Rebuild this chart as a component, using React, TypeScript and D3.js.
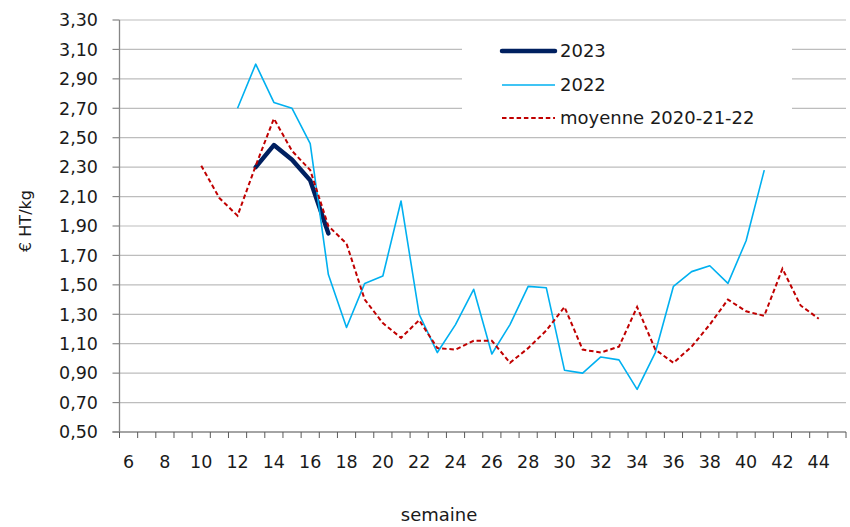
import React from "react";
import * as d3 from "d3";

// Week numbers on the category axis
const weeks: number[] = [
  6, 7, 8, 9, 10, 11, 12, 13, 14, 15, 16, 17, 18, 19, 20, 21, 22, 23, 24, 25,
  26, 27, 28, 29, 30, 31, 32, 33, 34, 35, 36, 37, 38, 39, 40, 41, 42, 43, 44, 45,
];
const yTicks: number[] = [0.5, 0.7, 0.9, 1.1, 1.3, 1.5, 1.7, 1.9, 2.1, 2.3, 2.5, 2.7, 2.9, 3.1, 3.3];

// Prices in € HT/kg, per week
const weeks2023: number[] = [13, 14, 15, 16, 17];
const values2023: number[] = [2.30, 2.45, 2.35, 2.21, 1.85];

const weeks2022: number[] = [
  12, 13, 14, 15, 16, 17, 18, 19, 20, 21, 22, 23, 24, 25, 26, 27, 28, 29, 30, 31,
  32, 33, 34, 35, 36, 37, 38, 39, 40, 41,
];
const values2022: number[] = [
  2.70, 3.00, 2.74, 2.70, 2.46, 1.57, 1.21, 1.51, 1.56, 2.07, 1.30, 1.04, 1.23, 1.47, 1.03,
  1.23, 1.49, 1.48, 0.92, 0.90, 1.01, 0.99, 0.79, 1.04, 1.49, 1.59, 1.63, 1.51, 1.80, 2.28,
];

const weeksAvg: number[] = [
  10, 11, 12, 13, 14, 15, 16, 17, 18, 19, 20, 21, 22, 23, 24, 25, 26, 27, 28, 29,
  30, 31, 32, 33, 34, 35, 36, 37, 38, 39, 40, 41, 42, 43, 44,
];
const valuesAvg: number[] = [
  2.31, 2.09, 1.97, 2.31, 2.63, 2.41, 2.28, 1.90, 1.78, 1.40, 1.24, 1.14, 1.26, 1.07, 1.06,
  1.12, 1.12, 0.97, 1.07, 1.19, 1.35, 1.06, 1.04, 1.08, 1.35, 1.06, 0.97, 1.08, 1.23, 1.40,
  1.32, 1.29, 1.61, 1.36, 1.27,
];

const W = 850;
const H = 527;
const left = 119.5;
const right = 846;
const top = 20;
const bottom = 432;
const FONT = "'DejaVu Sans', sans-serif";

const C2023 = "#002060";
const C2022 = "#00B0F0";
const CAVG = "#C00000";

export default function App() {
  const x = d3.scaleBand<number>().domain(weeks).range([left, right]).paddingInner(0).paddingOuter(0);
  const y = d3.scaleLinear().domain([0.5, 3.3]).range([bottom, top]);
  const cx = (w: number) => (x(w) as number) + x.bandwidth() / 2;

  const line = d3
    .line<[number, number]>()
    .x((d) => cx(d[0]))
    .y((d) => y(d[1]));

  const pts = (ws: number[], vs: number[]) => ws.map((w, i) => [w, vs[i]] as [number, number]);

  const fmt = (v: number) => v.toFixed(2).replace(".", ",");

  const boundaries = weeks.map((w) => x(w) as number).concat([right]);

  // legend placement
  const lgX0 = 502;
  const lgX1 = 555;
  const lgRows = [51, 85, 118];

  return (
    <svg
      width={W}
      height={H}
      viewBox={`0 0 ${W} ${H}`}
      style={{ position: "absolute", left: 0, top: 0, background: "#fff" }}
      fontFamily={FONT}
    >
      <rect x={0} y={0} width={W} height={H} fill="#fff" />

      {/* horizontal gridlines */}
      {yTicks.slice(1).map((t) => (
        <line key={t} x1={left} x2={right} y1={y(t)} y2={y(t)} stroke="#BDBDBD" strokeWidth={1.2} />
      ))}

      {/* y axis */}
      <line x1={left} x2={left} y1={top} y2={bottom} stroke="#868686" strokeWidth={1.3} />
      {yTicks.map((t) => (
        <g key={t}>
          <line x1={left - 7} x2={left} y1={y(t)} y2={y(t)} stroke="#868686" strokeWidth={1.2} />
          <text x={98} y={y(t)} dy="0.36em" textAnchor="end" fontSize={17.5} fill="#1a1a1a">
            {fmt(t)}
          </text>
        </g>
      ))}

      {/* x axis */}
      <line x1={left - 7} x2={right} y1={bottom} y2={bottom} stroke="#868686" strokeWidth={1.5} />
      {boundaries.map((b, i) => (
        <line key={i} x1={b} x2={b} y1={bottom} y2={bottom + 6} stroke="#5a5a5a" strokeWidth={1} />
      ))}
      {weeks
        .filter((w) => w % 2 === 0)
        .map((w) => (
          <text key={w} x={cx(w)} y={462} dy="0.36em" textAnchor="middle" fontSize={17.5} fill="#1a1a1a">
            {w}
          </text>
        ))}

      {/* axis titles */}
      <text x={439} y={515} dy="0.36em" textAnchor="middle" fontSize={18} fill="#1a1a1a">
        semaine
      </text>
      <text
        transform={`translate(25,221) rotate(-90)`}
        dy="0.36em"
        textAnchor="middle"
        fontSize={16}
        fill="#1a1a1a"
      >
        € HT/kg
      </text>

      {/* series */}
      <path
        d={line(pts(weeks2023, values2023)) || ""}
        fill="none"
        stroke={C2023}
        strokeWidth={4.5}
        strokeLinejoin="round"
        strokeLinecap="round"
      />
      <path
        d={line(pts(weeks2022, values2022)) || ""}
        fill="none"
        stroke={C2022}
        strokeWidth={1.6}
        strokeLinejoin="round"
      />
      <path
        d={line(pts(weeksAvg, valuesAvg)) || ""}
        fill="none"
        stroke={CAVG}
        strokeWidth={2}
        strokeDasharray="4.5,2.8"
      />

      {/* legend */}
      <rect x={462} y={27} width={330} height={105} fill="#fff" />
      <line x1={lgX0} x2={lgX1} y1={lgRows[0]} y2={lgRows[0]} stroke={C2023} strokeWidth={4.5} strokeLinecap="round" />
      <line x1={lgX0} x2={lgX1} y1={lgRows[1]} y2={lgRows[1]} stroke={C2022} strokeWidth={1.6} />
      <line x1={lgX0} x2={lgX1} y1={lgRows[2]} y2={lgRows[2]} stroke={CAVG} strokeWidth={2} strokeDasharray="4.5,2.8" />
      {["2023", "2022", "moyenne 2020-21-22"].map((s, i) => (
        <text key={s} x={560} y={lgRows[i]} dy="0.36em" fontSize={18} fill="#1a1a1a">
          {s}
        </text>
      ))}
    </svg>
  );
}
